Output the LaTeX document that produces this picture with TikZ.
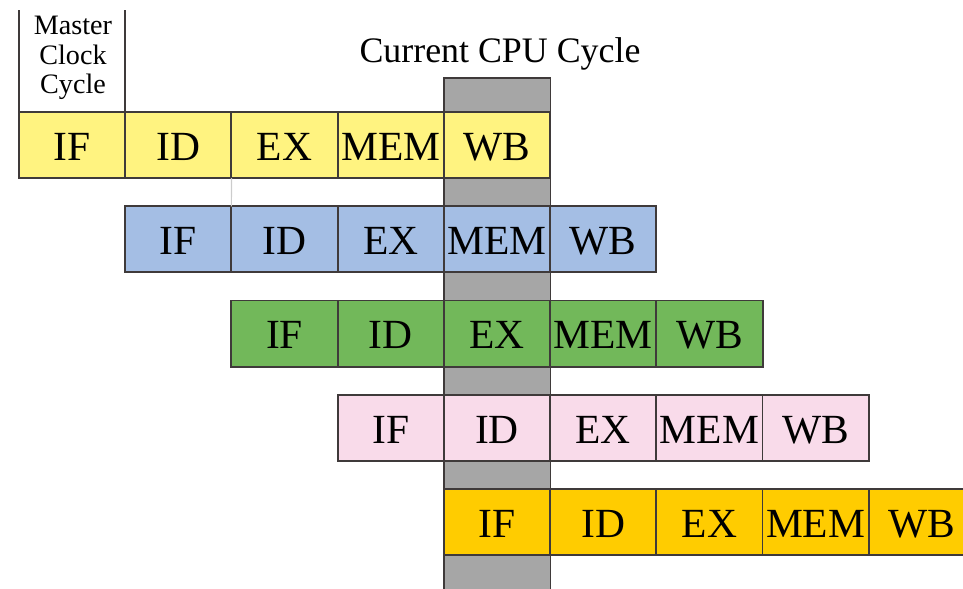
\documentclass[tikz,border=0pt]{standalone}
\usepackage{fontspec}
\setmainfont{Liberation Serif}
\usetikzlibrary{positioning}
\definecolor{ifyellow}{HTML}{FFF380}
\definecolor{idblue}{HTML}{A4BEE4}
\definecolor{exgreen}{HTML}{72B85A}
\definecolor{mempink}{HTML}{F9DBEA}
\definecolor{wborange}{HTML}{FFCC00}
\definecolor{cyclegray}{HTML}{A6A6A6}
\definecolor{cellline}{HTML}{3F3A3A}
\tikzset{
	stage/.style = {
		draw=cellline,
		line width=1.4pt,
		rectangle,
		minimum width=2.655cm,
		minimum height=1.65cm,
		inner sep=0pt,
		outer sep=0pt,
		anchor=north west,
		text height=22pt,
		text depth=0pt,
		font=\fontsize{29.5}{29.5}\selectfont
	},
	caption/.style = {
		align=center,
		inner sep=0pt
	}
}
\begin{document}
\begin{tikzpicture}[x=0.025cm, y=-0.025cm]
		
		\useasboundingbox (0,0) rectangle (963,588);
		\clip (0,0) rectangle (963,588);
		
		% --- Columna del ciclo actual ---
		\filldraw[fill=cyclegray, draw=cellline, line width=1.4pt] (444,78) rectangle (550.5,600);
		
		% --- Etapas de cada instruccion ---
		\foreach \row/\fillc in {0/ifyellow, 1/idblue, 2/exgreen, 3/mempink, 4/wborange} {
			\node [stage, fill=\fillc] (r\row-1) at ({19+106.2*\row},{112+94.25*\row}) {IF};
			\node [stage, fill=\fillc, right=0pt of r\row-1] (r\row-2) {ID};
			\node [stage, fill=\fillc, right=0pt of r\row-2] (r\row-3) {EX};
			\node [stage, fill=\fillc, right=0pt of r\row-3] (r\row-4) {MEM};
			\node [stage, fill=\fillc, right=0pt of r\row-4] (r\row-5) {WB};
		}
		
		\draw [black!20, line width=0.8pt] (r0-2.south east) -- (r1-1.north east);
		
		% --- Ciclo de reloj maestro ---
		\coordinate (clockl) at ([yshift=2.55cm]r0-1.north west);
		\coordinate (clockr) at ([yshift=2.55cm]r0-1.north east);
		\draw [cellline, line width=1.4pt] (r0-1.north west) -- (clockl);
		\draw [cellline, line width=1.4pt] (r0-1.north east) -- (clockr);
		\node [caption, font=\fontsize{20}{20.8}\selectfont] (master) at (73,58) {Master\\Clock\\Cycle};
		
		\node [caption, anchor=base, font=\fontsize{25.5}{28}\selectfont] (title) at (500,62) {Current CPU Cycle};
		
	\end{tikzpicture}
\end{document}
